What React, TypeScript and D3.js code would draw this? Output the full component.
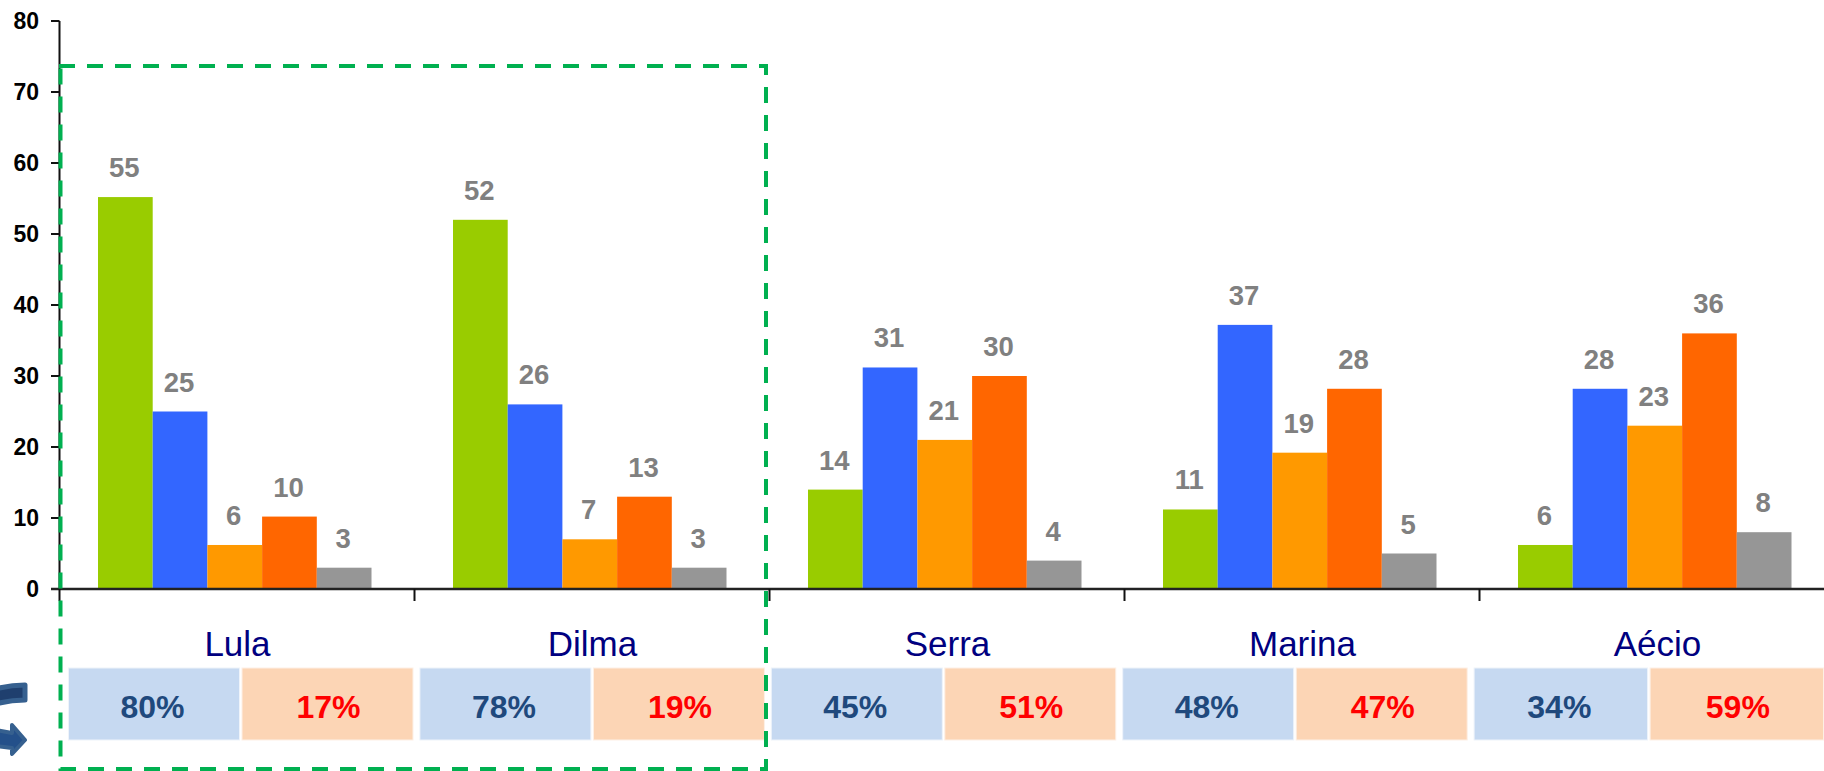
import React from "react";
import * as d3 from "d3";

const categories = ["Lula", "Dilma", "Serra", "Marina", "Aécio"];
const seriesKeys = ["a", "b", "c", "d", "e"];
const seriesColors = ["#99cc00", "#3366ff", "#ff9900", "#ff6600", "#969696"];
const seriesA = [55.2, 52, 14, 11.2, 6.2];
const seriesB = [25, 26, 31.2, 37.2, 28.2];
const seriesC = [6.2, 7, 21, 19.2, 23];
const seriesD = [10.2, 13, 30, 28.2, 36];
const seriesE = [3, 3, 4, 5, 8];
const seriesValues = [seriesA, seriesB, seriesC, seriesD, seriesE];
const yTicks = [0, 10, 20, 30, 40, 50, 60, 70, 80];
const positive = ["80%", "78%", "45%", "48%", "34%"];
const negative = ["17%", "19%", "51%", "47%", "59%"];

const FONT = "'Liberation Sans', Arial, sans-serif";

export default function App() {
  const y = d3.scaleLinear().domain([0, 80]).range([589, 21]);
  const x0 = d3.scaleBand<string>().domain(categories).range([59.5, 59.5 + 355 * 5]);
  const x1 = d3
    .scaleBand<string>()
    .domain(seriesKeys)
    .range([38.5, 38.5 + 273.5]);
  const tableX = d3.scaleBand<string>().domain(categories).range([68.5, 68.5 + 351.4 * 5]);

  return (
    <svg
      width={1824}
      height={771}
      viewBox="0 0 1824 771"
      style={{ position: "absolute", left: 0, top: 0, background: "#fff" }}
      fontFamily={FONT}
    >
      {/* bars */}
      {categories.map((c, i) =>
        seriesKeys.map((k, j) => {
          const v = seriesValues[j][i];
          const bx = x0(c)! + x1(k)!;
          return (
            <g key={c + k}>
              <rect x={bx} y={y(v)} width={x1.bandwidth()} height={y(0) - y(v)} fill={seriesColors[j]} />
              <text
                x={bx + x1.bandwidth() / 2 - 1}
                y={y(v) - 20}
                textAnchor="middle"
                fontSize={27.5}
                fontWeight="bold"
                fill="#808080"
              >
                {Math.round(v)}
              </text>
            </g>
          );
        })
      )}

      {/* y axis */}
      <line x1={59.5} x2={59.5} y1={y(80)} y2={y(0)} stroke="#111" strokeWidth={2} />
      {yTicks.map((t) => (
        <g key={t}>
          <line x1={51} x2={59.5} y1={y(t)} y2={y(t)} stroke="#111" strokeWidth={2} />
          <text x={39} y={y(t) + 8} textAnchor="end" fontSize={23} fontWeight="bold" fill="#000">
            {t}
          </text>
        </g>
      ))}

      {/* x axis */}
      <line x1={51} x2={1824} y1={y(0)} y2={y(0)} stroke="#222" strokeWidth={2.5} />
      {d3.range(0, 5).map((i) => {
        const tx = x0(categories[i])!;
        return <line key={i} x1={tx} x2={tx} y1={y(0)} y2={601} stroke="#111" strokeWidth={2} />;
      })}

      {/* names */}
      {categories.map((c) => (
        <text
          key={c}
          x={x0(c)! + 178}
          y={656}
          textAnchor="middle"
          fontSize={35}
          fill="#000080"
        >
          {c}
        </text>
      ))}

      {/* table */}
      {categories.map((c, i) => {
        const tx = tableX(c)!;
        const cellW = i === 4 ? 173.5 : 171;
        return (
          <g key={c}>
            <rect x={tx} y={668} width={cellW} height={72} fill="#c6d9f1" stroke="#eef3fa" strokeWidth={1} />
            <rect x={tx + cellW + 2.5} y={668} width={cellW} height={72} fill="#fcd5b5" stroke="#fdf0e6" strokeWidth={1} />
            <text x={tx + cellW / 2 - 1.5} y={718} textAnchor="middle" fontSize={32} fontWeight="bold" fill="#1f497d">
              {positive[i]}
            </text>
            <text x={tx + cellW + 2.5 + cellW / 2 + 1} y={718} textAnchor="middle" fontSize={32} fontWeight="bold" fill="#ff0000">
              {negative[i]}
            </text>
          </g>
        );
      })}

      {/* cycle arrows, cut by the page edge */}
      <path
        d="M-4,689 Q10,685 25,685 L25,700 Q10,700 -4,704 Z"
        fill="#1f3f6e"
        stroke="#36608f"
        strokeWidth={5}
        strokeLinejoin="round"
      />
      <path
        d="M-4,730 L12,733 L12,725 L25,740 L12,754 L12,748 L-4,746 Z"
        fill="#24508a"
        stroke="#36608f"
        strokeWidth={4}
        strokeLinejoin="round"
      />

      {/* highlight box */}
      <path
        d="M59,66 H766 V769 H60.5 V66"
        fill="none"
        stroke="#00b050"
        strokeWidth={4}
        strokeDasharray="16 12"
      />
    </svg>
  );
}
